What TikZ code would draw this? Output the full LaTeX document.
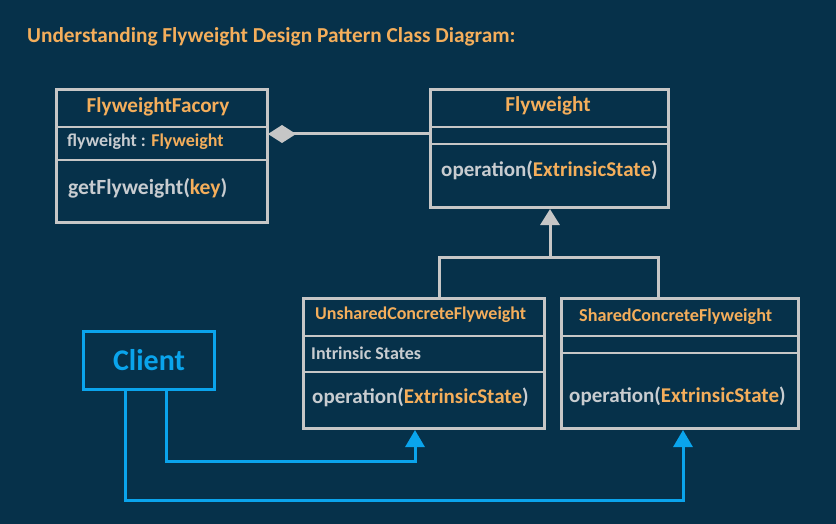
\documentclass[tikz,border=0pt]{standalone}
\usepackage{fontspec}
\setmainfont{Carlito}
\usetikzlibrary{arrows.meta}
\definecolor{bgc}{HTML}{06314A}
\definecolor{org}{HTML}{F4AE5B}
\definecolor{gln}{HTML}{C6C6C6}
\definecolor{gtx}{HTML}{C8CCD0}
\definecolor{blu}{HTML}{0AA4EC}
\newcommand{\fsz}[1]{\fontsize{#1}{#1}\selectfont}
\begin{document}
\begin{tikzpicture}[x=1pt,y=-1pt,
 box/.style={draw=gln, line width=3pt, anchor=north west, inner sep=0pt},
 sep/.style={draw=gln, line width=2.5pt},
 txt/.style={inner sep=0pt, font=\bfseries, text=gtx},
 conn/.style={draw=gln, line width=3pt},
 bconn/.style={draw=blu, line width=3pt},
 otri/.style={-{Triangle[length=16pt,width=19pt]}},
]
\fill[bgc] (0,0) rectangle (836,524);
\useasboundingbox (0,0) rectangle (836,524);
\node[txt, text=org, anchor=base west, font=\bfseries\fsz{21.3}] (title) at (27,43) {Understanding Flyweight Design Pattern Class Diagram:};

% FlyweightFacory
\node[box, minimum width=211pt, minimum height=133pt] (fac) at (55,88) {};
\draw[sep] (55,127) -- (266,127);
\draw[sep] (55,160) -- (266,160);
\node[txt, text=org, anchor=base, font=\bfseries\fsz{21.2}] (facT) at (158,113) {FlyweightFacory};
\node[txt, anchor=base west, font=\bfseries\fsz{18}] (facA) at (67,147) {flyweight : \textcolor{org}{Flyweight}};
\node[txt, anchor=base west, font=\bfseries\fsz{21.6}] (facM) at (68,194) {getFlyweight(\textcolor{org}{key})};

% Flyweight
\node[box, minimum width=238pt, minimum height=118pt] (fw) at (429,88) {};
\draw[sep] (429,127) -- (667,127);
\draw[sep] (429,144) -- (667,144);
\node[txt, text=org, anchor=base, font=\bfseries\fsz{21.2}] (fwT) at (548,112) {Flyweight};
\node[txt, anchor=base west, font=\bfseries\fsz{21}] (fwM) at (441,177) {operation(\textcolor{org}{ExtrinsicState})};

% Unshared
\node[box, minimum width=241pt, minimum height=130pt] (un) at (302,297) {};
\draw[sep] (302,336) -- (543,336);
\draw[sep] (302,372) -- (543,372);
\node[txt, text=org, anchor=base west, font=\bfseries\fsz{18}] (unT) at (315,319) {UnsharedConcreteFlyweight};
\node[txt, anchor=base west, font=\bfseries\fsz{18}] (unA) at (311,359) {Intrinsic States};
\node[txt, anchor=base west, font=\bfseries\fsz{21}] (unM) at (312,403) {operation(\textcolor{org}{ExtrinsicState})};

% Shared
\node[box, minimum width=237pt, minimum height=130pt] (sh) at (560,297) {};
\draw[sep] (560,336) -- (797,336);
\draw[sep] (560,353) -- (797,353);
\node[txt, text=org, anchor=base west, font=\bfseries\fsz{18.2}] (shT) at (579,321) {SharedConcreteFlyweight};
\node[txt, anchor=base west, font=\bfseries\fsz{21}] (shM) at (569,402) {operation(\textcolor{org}{ExtrinsicState})};

% Client
\node[box, draw=blu, text=blu, minimum width=131pt, minimum height=58pt, font=\bfseries\fsz{30}] (cl) at (82,330) {Client};

% aggregation
\coordinate (dmd) at (268,134);
\draw[conn, {Diamond[length=28pt,width=18pt]}-] (dmd) -- (dmd -| fw.west);

% inheritance
\coordinate (jn) at (550,257);
\coordinate (lu) at (439,257);
\coordinate (ls) at (658,257);
\draw[conn, otri] (jn) -- (jn |- fw.south);
\draw[conn] (lu |- un.north) -- (lu) -- (ls) -- (ls |- sh.north);

% client links
\coordinate (b1) at (166,461);
\coordinate (a1) at (415,461);
\coordinate (b2) at (125,500);
\coordinate (a2) at (683,500);
\draw[bconn, -{Triangle[length=17pt,width=19pt]}] (b1 |- cl.south) -- (b1) -- (a1) -- (a1 |- un.south);
\draw[bconn, -{Triangle[length=17pt,width=19pt]}] (b2 |- cl.south) -- (b2) -- (a2) -- (a2 |- sh.south);
\end{tikzpicture}
\end{document}
